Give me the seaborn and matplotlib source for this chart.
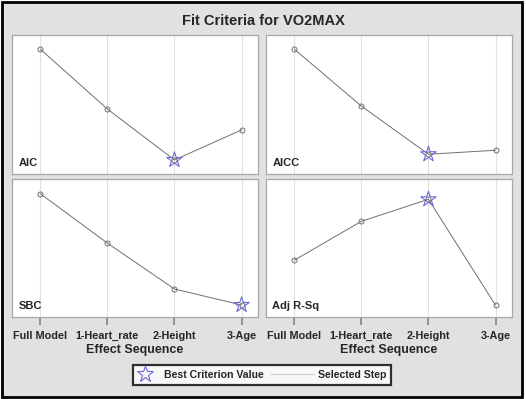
import numpy as np
import pandas as pd
import seaborn as sns
import matplotlib.pyplot as plt
from matplotlib.patches import Rectangle
from matplotlib.lines import Line2D
from matplotlib.legend_handler import HandlerLine2D

#%% data (criterion values on a 0-100 relative scale)
steps = ['Full Model', '1-Heart_rate', '2-Height', '3-Age']
aic = [89.9, 46.8, 10.1, 31.7]
aicc = [89.9, 48.9, 14.2, 17.1]
sbc = [89.4, 53.6, 20.3, 8.7]
adj_rsq = [41.1, 69.3, 85.3, 8.5]
best_step = {'AIC': 2, 'AICC': 2, 'SBC': 3, 'Adj R-Sq': 2}

#%% style
sns.set_style('white')
plt.rcParams['font.family'] = ['Liberation Sans', 'DejaVu Sans']
plt.rcParams['xtick.bottom'] = True
plt.rcParams['xtick.major.size'] = 6

W, H = 526, 399
fig = plt.figure(figsize=(W / 100, H / 100), dpi=100)
fig.patch.set_facecolor('white')
fig.patches.append(Rectangle((1.5 / W, 1 - 396.5 / H), 520.5 / W, 395 / H,
                             transform=fig.transFigure, facecolor='#e1e1e1',
                             edgecolor='black', linewidth=2, zorder=-10))


def box(x0, y0, x1, y1):
    return [x0 / W, 1 - y1 / H, (x1 - x0) / W, (y1 - y0) / H]


panels = [('AIC', aic, box(12, 35, 258, 174), False),
          ('AICC', aicc, box(266, 35, 512, 174), False),
          ('SBC', sbc, box(12, 179, 258, 317), True),
          ('Adj R-Sq', adj_rsq, box(266, 179, 512, 317), True)]

STAR = '#6a6ad8'
LINE = '#707070'

for name, vals, rect, bottom in panels:
    ax = fig.add_axes(rect)
    df = pd.DataFrame({'step': np.arange(len(steps)), 'value': vals})
    sns.lineplot(data=df, x='step', y='value', ax=ax, color=LINE, linewidth=0.7,
                 marker='o', markersize=3.6, markerfacecolor='none',
                 markeredgecolor='#707070', markeredgewidth=0.7, zorder=3)
    b = df.iloc[[best_step[name]]]
    sns.scatterplot(data=b, x='step', y='value', ax=ax, marker='*', s=135,
                    facecolor='none', edgecolor=STAR, linewidth=0.8, zorder=4)
    ax.set_xlim(-0.42, 3.245)
    ax.set_ylim(0, 100)
    ax.set_xticks(range(len(steps)))
    ax.grid(axis='x', color='#e1e1e1', linewidth=0.8)
    ax.set_axisbelow(True)
    ax.set_yticks([])
    ax.set_ylabel('')
    ax.set_xlabel('')
    for s in ax.spines.values():
        s.set_color('#a8a8a8')
        s.set_linewidth(0.9)
    ax.text(0.026, 0.04, name, transform=ax.transAxes, fontsize=8,
            fontweight='bold', ha='left', va='bottom')
    if bottom:
        ax.set_xticklabels(steps, fontsize=7.8, fontweight='bold')
        ax.tick_params(axis='x', which='major', bottom=True, direction='out',
                       length=6, width=1.1, color='#7c7c7c', pad=4)
        ax.set_xlabel('Effect Sequence', fontsize=9, fontweight='bold', labelpad=2)
    else:
        ax.set_xticklabels([])
        ax.tick_params(axis='x', length=0)

fig.text(263 / W, 1 - 21 / H, 'Fit Criteria for VO2MAX', ha='center', va='center',
         fontsize=10.5, fontweight='bold')


class LongLine(HandlerLine2D):
    # reference line in the legend reaches back into the column gap
    def create_artists(self, legend, orig_handle, xdescent, ydescent,
                       width, height, fontsize, trans):
        y = height / 2 - ydescent
        x0 = -xdescent - 2.0 * fontsize
        x1 = -xdescent + width + 0.6 * fontsize
        ln = Line2D([x0, x1], [y, y])
        self.update_prop(ln, orig_handle, legend)
        ln.set_transform(trans)
        return [ln]


star_h = Line2D([], [], linestyle='none', marker='*', markersize=12,
                markerfacecolor='none', markeredgecolor=STAR, markeredgewidth=0.8)
line_h = Line2D([], [], color='#d0d0d0', linewidth=0.9)
leg = fig.legend([star_h, line_h], ['Best Criterion Value', 'Selected Step'], ncol=2,
                 loc='center', bbox_to_anchor=(262 / W, 1 - 375 / H),
                 prop={'size': 7.6, 'weight': 'bold'}, frameon=True, fancybox=False,
                 handlelength=1.5, columnspacing=2.7, handletextpad=1.0,
                 borderpad=0.45, handler_map={line_h: LongLine()})
leg.get_frame().set_edgecolor('black')
leg.get_frame().set_linewidth(1.6)
leg.get_frame().set_facecolor('white')

fig.savefig('out.png', dpi=100, facecolor=fig.get_facecolor())
